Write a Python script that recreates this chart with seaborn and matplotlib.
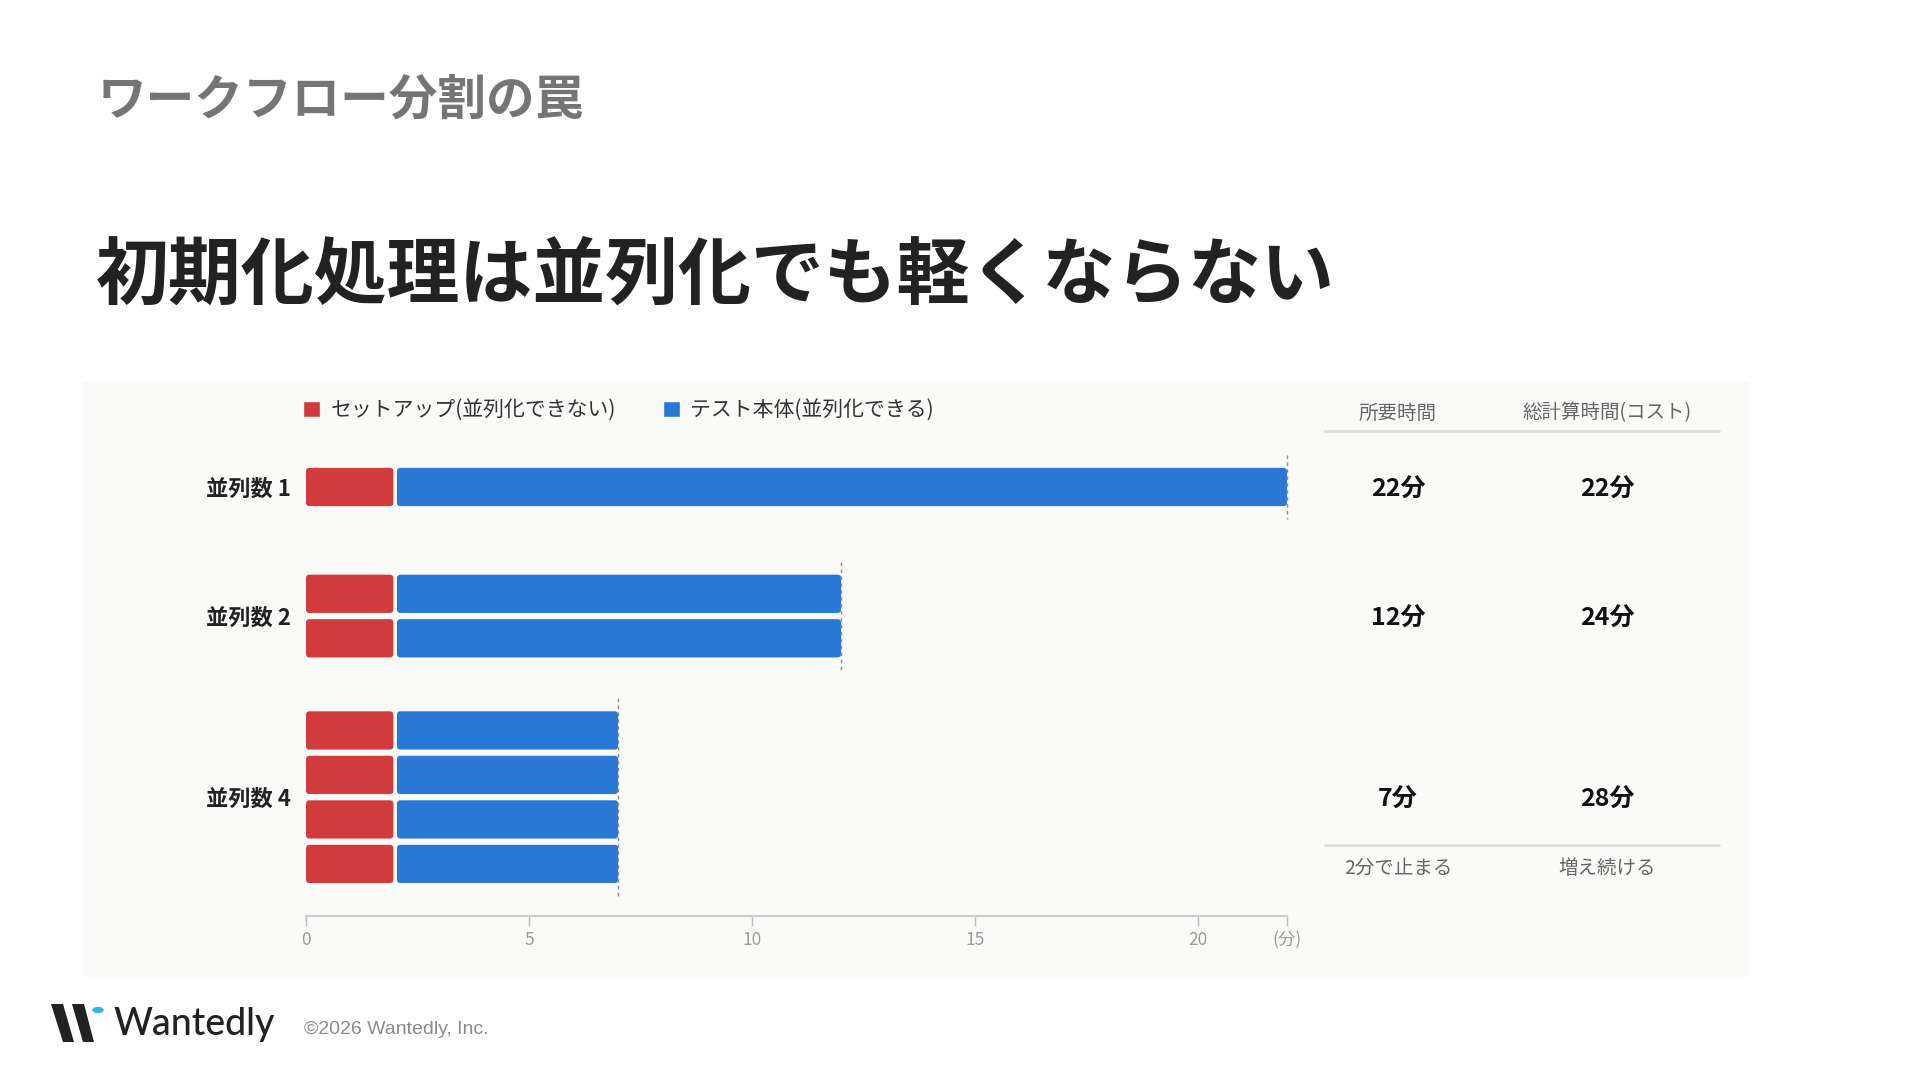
import pandas as pd
import seaborn as sns
import matplotlib.pyplot as plt
from matplotlib.patches import FancyBboxPatch, Rectangle, Polygon, Circle, Patch
from matplotlib.lines import Line2D
from matplotlib.transforms import blended_transform_factory, offset_copy

# chart data
groups = ["並列数 1", "並列数 2", "並列数 4"]
workers = [1, 2, 4]
setup_min = [2, 2, 2]
test_min = [20, 10, 5]
wall_labels = ["22分", "12分", "7分"]
cost_labels = ["22分", "24分", "28分"]
legend_labels = ["セットアップ(並列化できない)", "テスト本体(並列化できる)"]
table_headers = ["所要時間", "総計算時間(コスト)"]
table_notes = ["2分で止まる", "増え続ける"]
x_ticks = [0, 5, 10, 15, 20]

RED = "#D13B3B"
BLUE = "#2A78D6"
W, H = 1920, 1080

sns.set_theme(style="white")
plt.rcParams["font.family"] = ["Noto Sans CJK JP", "DejaVu Sans"]


def fx(x):
    return x / W


def fy(y):
    return 1 - y / H


# one row per worker bar; spacing (in bar slots) before each following group
group_gaps = [2.4, 2.07, 0]
rows = []
pos = 0.0
for g, n, s, t, gp in zip(groups, workers, setup_min, test_min, group_gaps):
    for i in range(n):
        rows.append({"group": g, "pos": pos, "setup": s, "total": s + t})
        pos += 1
    pos += gp - 1
df = pd.DataFrame(rows)

fig = plt.figure(figsize=(19.2, 10.8), dpi=100, facecolor="white")
fig.patches.append(Rectangle((fx(83), fy(977)), fx(1666), 595 / H, transform=fig.transFigure,
                             facecolor="#FAFAF8", edgecolor="none", zorder=-10))

ax = fig.add_axes([fx(306), fy(916), fx(981), 473.5 / H])
ax.set_facecolor("none")

# blue = whole run, red = setup drawn on top; then split and round the corners
n0 = len(ax.patches)
sns.barplot(data=df, x="total", y="pos", orient="h", native_scale=True, color=BLUE,
            width=0.86, errorbar=None, saturation=1, ax=ax)
blue = ax.patches[n0:]
n1 = len(ax.patches)
sns.barplot(data=df, x="setup", y="pos", orient="h", native_scale=True, color=RED,
            width=0.86, errorbar=None, saturation=1, ax=ax)
red = ax.patches[n1:]

gap = 0.04
for p in list(blue) + list(red):
    y, h = p.get_y(), p.get_height()
    row = df.iloc[(df["pos"] - (y + h / 2)).abs().argmin()]
    if p in blue:
        x0, x1 = row["setup"] + gap, row["total"]
    else:
        x0, x1 = 0, row["setup"] - gap
    fb = FancyBboxPatch((x0, y), x1 - x0, h, boxstyle="round,pad=0,rounding_size=0.08",
                        facecolor=p.get_facecolor(), edgecolor="none", zorder=3)
    p.remove()
    ax.add_patch(fb)

# dashed end markers per group
centers = []
for g in groups:
    sub = df[df["group"] == g]
    centers.append(sub["pos"].mean())
    ax.vlines(sub["total"].iloc[0], sub["pos"].min() - 0.72, sub["pos"].max() + 0.72,
              colors="#8A8A8A", linestyles=(0, (2.5, 2.5)), linewidth=1, zorder=4,
              clip_on=False)

ax.set_xlim(0, 22)
ax.set_ylim(9.64, -1)
ax.set_xticks(x_ticks + [22])
ax.set_xticklabels([str(v) for v in x_ticks] + ["(分)"], fontsize=12.5, color="#9A9A9A")
ax.xaxis.get_major_ticks()[-1].tick1line.set_visible(False)
ax.set_yticks(centers)
ax.set_yticklabels(groups, fontsize=16, fontweight="bold", color="#222222")
ax.tick_params(axis="x", length=7, width=1, color="#BBBBBB", pad=4, bottom=True)
ax.tick_params(axis="y", length=0, pad=11)
ax.set_xlabel("")
ax.set_ylabel("")
for side in ["top", "right", "left"]:
    ax.spines[side].set_visible(False)
ax.spines["bottom"].set_color("#CCCCCC")
ax.spines["bottom"].set_linewidth(1.5)

fig.legend(handles=[Patch(facecolor=RED), Patch(facecolor=BLUE)], labels=legend_labels,
           loc="center left", bbox_to_anchor=(fx(303), fy(410)), ncol=2, frameon=False,
           fontsize=15, handlelength=0.82, handleheight=0.82, handletextpad=0.5,
           columnspacing=2.25, borderpad=0, borderaxespad=0, labelcolor="#333333")

# right-hand table
col_x = [1398, 1607]
trans = offset_copy(blended_transform_factory(fig.transFigure, ax.transData),
                    fig=fig, x=0, y=-3, units="dots")
for cx, head, note in zip(col_x, table_headers, table_notes):
    fig.text(fx(cx), fy(413), head, ha="center", va="center", fontsize=14, color="#666666")
    fig.text(fx(cx), fy(868), note, ha="center", va="center", fontsize=14, color="#666666")
for c, wl, cl in zip(centers, wall_labels, cost_labels):
    ax.text(fx(col_x[0]), c, wl, transform=trans, ha="center", va="center",
            fontsize=18, fontweight="bold", color="#111111")
    ax.text(fx(col_x[1]), c, cl, transform=trans, ha="center", va="center",
            fontsize=18, fontweight="bold", color="#111111")
for ly in [431, 845]:
    fig.add_artist(Line2D([fx(1325), fx(1719)], [fy(ly), fy(ly)], color="#DDDDDD",
                          linewidth=2, transform=fig.transFigure))

# titles
fig.text(fx(98), fy(100), "ワークフロー分割の罠", ha="left", va="center",
         fontsize=35, fontweight="bold", color="#757575")
fig.text(fx(96), fy(276), "初期化処理は並列化でも軽くならない", ha="left", va="center",
         fontsize=52.5, fontweight="bold", color="#222222")

# footer logo
for pts in [[(51, 1004), (63, 1004), (74, 1042), (63, 1042)],
            [(72, 1004), (84, 1004), (94, 1042), (83, 1042)]]:
    fig.patches.append(Polygon([(fx(a), fy(b)) for a, b in pts], closed=True,
                               transform=fig.transFigure, facecolor="#222222", edgecolor="none"))
fig.patches.append(Circle((fx(98), fy(1010)), 5.7 / W, transform=fig.transFigure,
                          facecolor="#2CB6E0", edgecolor="none"))
fig.text(fx(114), fy(1025), "Wantedly", ha="left", va="center", fontsize=27,
         family="Lato", fontweight="medium", color="#222222")
fig.text(fx(304), fy(1029), "©2026 Wantedly, Inc.", ha="left", va="center", fontsize=14,
         family="Liberation Sans", color="#8A8A8A")

fig.savefig("out.png", dpi=100, facecolor="white")
